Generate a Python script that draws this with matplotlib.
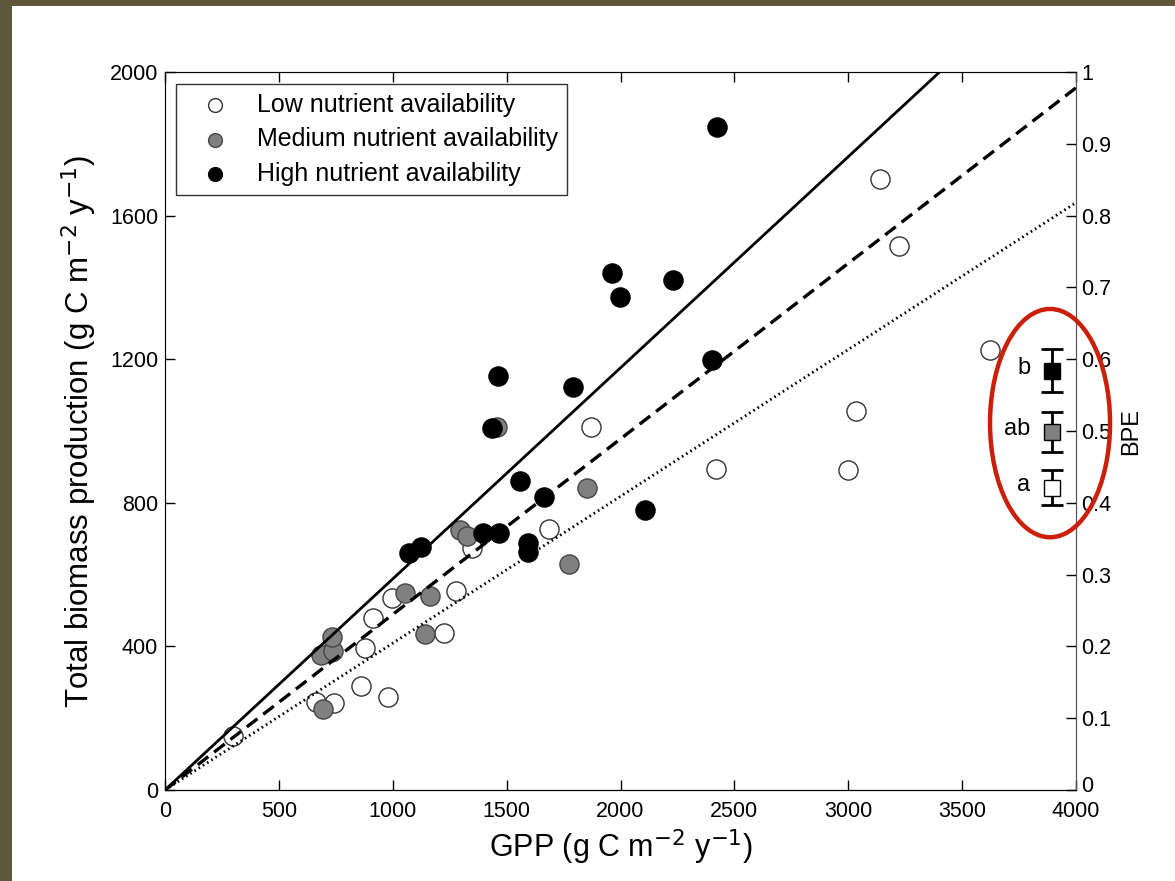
import matplotlib
matplotlib.use('Agg')
import matplotlib.pyplot as plt
import matplotlib.transforms as mtransforms
from matplotlib.patches import Ellipse, Rectangle

plt.rcParams['font.family'] = ['Liberation Sans', 'DejaVu Sans']

# GPP vs total biomass production, per nutrient class
low_gpp = [300, 663, 742, 727, 859, 878, 912, 981, 997, 1225, 1278, 1350, 1688, 1869,
           2418, 2997, 3034, 3139, 3224, 3622]
low_prod = [150, 246, 241, 385, 290, 396, 478, 258, 536, 436, 554, 673, 726, 1012,
            893, 891, 1056, 1701, 1515, 1226]
med_gpp = [695, 684, 739, 732, 1054, 1164, 1142, 1295, 1325, 1456, 1774, 1854]
med_prod = [226, 376, 388, 425, 548, 540, 434, 724, 708, 1010, 629, 842]
high_gpp = [1073, 1124, 1398, 1468, 1434, 1464, 1559, 1595, 1595, 1666, 1793, 1961,
            1999, 2108, 2229, 2400, 2422]
high_prod = [659, 678, 717, 717, 1009, 1153, 861, 687, 663, 817, 1123, 1439,
             1374, 781, 1422, 1198, 1848]

# regression slopes through the origin (high, medium, low)
slope_high = 0.588
slope_med = 0.489
slope_low = 0.409

# mean BPE with error per class
bpe_labels = ['a', 'ab', 'b']
bpe_mean = [0.421, 0.499, 0.584]
bpe_err = [0.024, 0.028, 0.030]
bpe_colors = ['white', '#808080', 'black']
bpe_x = 3895

fig = plt.figure(figsize=(11.75, 8.81), dpi=100)
fig.patch.set_facecolor('#5e5639')
fig.patches.append(Rectangle((12 / 1175, 0), 1, 1 - 6 / 881, transform=fig.transFigure,
                             facecolor='white', edgecolor='none', zorder=-10))

ax = fig.add_axes([165 / 1175, 1 - 790 / 881, 911 / 1175, 718 / 881])
ax.set_facecolor('white')

ax.scatter(low_gpp, low_prod, s=190, facecolor='white', edgecolor='#333333', linewidth=1.0,
           zorder=2, label='Low nutrient availability')
ax.scatter(med_gpp, med_prod, s=190, facecolor='#808080', edgecolor='#444444', linewidth=1.0,
           zorder=2, label='Medium nutrient availability')
ax.scatter(high_gpp, high_prod, s=190, facecolor='black', edgecolor='black', linewidth=1.0,
           zorder=2, label='High nutrient availability')

xs = [0, 4000]
ax.plot(xs, [0, slope_high * 4000], color='black', lw=2.0, zorder=3)
ax.plot(xs, [0, slope_med * 4000], color='black', lw=2.4, ls=(0, (4, 2.2)), zorder=3)
ax.plot(xs, [0, slope_low * 4000], color='black', lw=2.0, ls=(0, (0.6, 1.2)), zorder=3)

ax.set_xlim(0, 4000)
ax.set_ylim(0, 2000)
ax.set_xticks(range(0, 4001, 500))
ax.set_yticks(range(0, 2001, 400))
ax.tick_params(direction='in', length=7, width=1, labelsize=15.5, top=True, pad=5)
ax.tick_params(axis='x', pad=8)
for side in ['left', 'top', 'right']:
    ax.spines[side].set_color('#555555')
ax.spines['bottom'].set_color('black')
ax.set_xlabel('GPP (g C m$^{-2}$ y$^{-1}$)', fontsize=22, labelpad=4)
ax.set_ylabel('Total biomass production (g C m$^{-2}$ y$^{-1}$)', fontsize=22.5, labelpad=8)

leg = ax.legend(loc='upper left', bbox_to_anchor=(0.012, 0.983), borderaxespad=0,
                fontsize=18, frameon=True, fancybox=False, edgecolor='black',
                handletextpad=0.5, borderpad=0.35, labelspacing=0.42, markerscale=0.72,
                handlelength=2.4)
leg.get_frame().set_linewidth(1.0)

# BPE on the right axis
ax2 = ax.twinx()
ax2.set_ylim(0, 1)
ax2.set_yticks([i / 10 for i in range(11)])
ax2.set_yticklabels(['0'] + [f'{i / 10:.1f}' for i in range(1, 10)] + ['1'])
ax2.tick_params(direction='in', length=7, width=1, labelsize=15.5, pad=4)
ax2.spines['right'].set_color('#555555')
ax2.set_ylabel('BPE', fontsize=17, labelpad=6)
# lift the bottom "0" a little so it clears the "4000" below it
zero_lbl = ax2.get_yticklabels()[0]
zero_lbl.set_transform(zero_lbl.get_transform() +
                       mtransforms.ScaledTranslation(0, 4 / 72, fig.dpi_scale_trans))

for lab, m, e, c in zip(bpe_labels, bpe_mean, bpe_err, bpe_colors):
    ax2.errorbar(bpe_x, m, yerr=e, fmt='s', color='black', mfc=c, mec='black', ms=11,
                 capsize=8, elinewidth=2, capthick=2, zorder=4)
    ax2.text(bpe_x - 95, m + 0.004, lab, fontsize=17, ha='right', va='center')

ax2.add_patch(Ellipse((3886, 0.511), 527, 0.318, fill=False, edgecolor='#cc1f0a', lw=3.2,
                      clip_on=False, zorder=5))

fig.savefig('out.png', dpi=100, facecolor=fig.get_facecolor())
